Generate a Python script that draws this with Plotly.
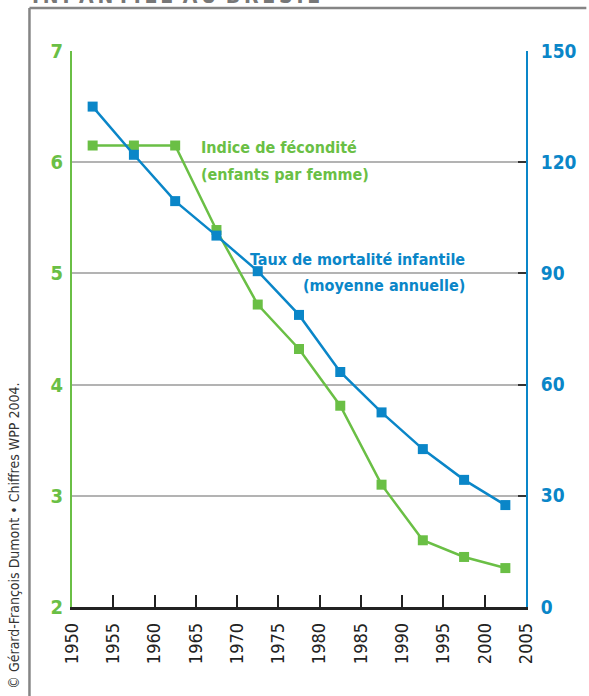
import plotly.graph_objects as go

years = [1952.5, 1957.5, 1962.5, 1967.5, 1972.5, 1977.5, 1982.5, 1987.5, 1992.5, 1997.5, 2002.5]
fecondite = [6.15, 6.15, 6.15, 5.39, 4.72, 4.32, 3.81, 3.10, 2.60, 2.45, 2.35]
mortalite = [135, 122, 109.5, 100.2, 90.6, 78.8, 63.4, 52.5, 42.6, 34.3, 27.5]
x_ticks = [1950, 1955, 1960, 1965, 1970, 1975, 1980, 1985, 1990, 1995, 2000, 2005]
left_ticks = [2, 3, 4, 5, 6, 7]
right_ticks = [0, 30, 60, 90, 120, 150]

GREEN = "#6abf45"
BLUE = "#0a86c8"
FONT = "DejaVu Sans Condensed, Liberation Sans Narrow, sans-serif"

W, H = 589, 696
L, R, T, B = 72, 58, 51, 89
PW, PH = W - L - R, H - T - B

def px(X):
    return (X - L) / PW

def py(Y):
    return (H - B - Y) / PH

fig = go.Figure()
fig.add_trace(go.Scatter(
    x=years, y=fecondite, mode="lines+markers", yaxis="y",
    line=dict(color=GREEN, width=2.5),
    marker=dict(symbol="square", size=10, color=GREEN),
    showlegend=False, cliponaxis=False, hoverinfo="skip"))
fig.add_trace(go.Scatter(
    x=years, y=mortalite, mode="lines+markers", yaxis="y2",
    line=dict(color=BLUE, width=2.5),
    marker=dict(symbol="square", size=10, color=BLUE),
    showlegend=False, cliponaxis=False, hoverinfo="skip"))

fig.update_layout(
    width=W, height=H,
    margin=dict(l=L, r=R, t=T, b=B),
    paper_bgcolor="white", plot_bgcolor="white",
    font=dict(family=FONT),
    xaxis=dict(
        range=[1950, 2005], tickvals=x_ticks, ticktext=[str(v) for v in x_ticks],
        tickangle=-90, ticks="inside", ticklen=12, tickwidth=2, tickcolor="#222",
        showline=True, linecolor="#222", linewidth=2.5, showgrid=False, zeroline=False,
        tickfont=dict(size=18, color="#222", family=FONT), ticklabelstandoff=6),
    yaxis=dict(
        range=[2, 7], tickvals=left_ticks, ticks="", showgrid=True,
        gridcolor="#b3b3b3", gridwidth=2, zeroline=False,
        showline=True, linecolor=GREEN, linewidth=2,
        tickfont=dict(size=20, color=GREEN, family=FONT, weight="bold"),
        ticklabelstandoff=3),
    yaxis2=dict(
        range=[0, 150], tickvals=right_ticks, overlaying="y", side="right",
        ticks="inside", ticklen=8, tickwidth=2, tickcolor="#333",
        showgrid=False, zeroline=False,
        showline=True, linecolor=BLUE, linewidth=2,
        tickfont=dict(size=19, color=BLUE, family=FONT, weight="bold"),
        ticklabelstandoff=9),
)

annos = [
    dict(text="Indice de fécondité", X=200, Y=147, anchor="left", color=GREEN),
    dict(text="(enfants par femme)", X=200, Y=175, anchor="left", color=GREEN),
    dict(text="Taux de mortalité infantile", X=471, Y=259, anchor="right", color=BLUE),
    dict(text="(moyenne annuelle)", X=471, Y=285, anchor="right", color=BLUE),
]
for a in annos:
    fig.add_annotation(
        text=a["text"], xref="paper", yref="paper", x=px(a["X"]), y=py(a["Y"]),
        xanchor=a["anchor"], yanchor="middle", showarrow=False,
        font=dict(size=16, color=a["color"], family=FONT, weight="bold"))

fig.add_annotation(
    text="© Gérard-François Dumont • Chiffres WPP 2004.",
    xref="paper", yref="paper", x=px(13), y=py(536), textangle=-90,
    xanchor="center", yanchor="middle", showarrow=False,
    font=dict(size=14, color="#333", family=FONT))

title = "&#8201;".join("INFANTILE") + "&#8194;" + "&#8201;".join("AU") + "&#8194;" + "&#8201;".join("BRÉSIL")
fig.add_annotation(
    text=title,
    xref="paper", yref="paper", x=px(30), y=py(10),
    xanchor="left", yanchor="bottom", showarrow=False,
    font=dict(size=21, color="#777", family=FONT, weight="bold"))

frame = dict(color="#858585", width=2.5)
fig.add_shape(type="line", xref="paper", yref="paper",
              x0=px(29), x1=px(29), y0=py(8), y1=py(700), line=frame)
fig.add_shape(type="line", xref="paper", yref="paper",
              x0=px(29), x1=px(592), y0=py(8), y1=py(8), line=frame)

fig.write_html("out.html", config={"displayModeBar": False},
               post_script="document.body.style.margin='0';document.body.style.overflow='hidden';")
